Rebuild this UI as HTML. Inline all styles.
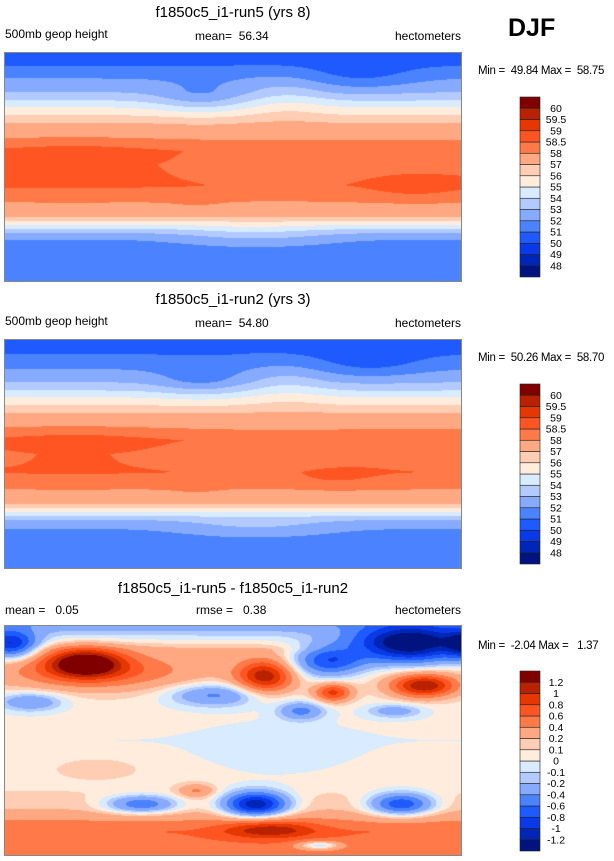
<!DOCTYPE html>
<html><head><meta charset="utf-8">
<style>
body{margin:0;background:#fff;width:614px;height:861px;position:relative;overflow:hidden;font-family:"Liberation Sans",sans-serif;color:#000}
.t{position:absolute;white-space:nowrap}
.mm{font-size:11.5px;letter-spacing:-0.3px}
canvas{position:absolute;outline:1px solid #888}
.cb{position:absolute}
</style></head><body>
<div class="t" style="left:508px;top:14px;font-size:25px;font-weight:bold">DJF</div>

<div class="t" style="left:0;width:466px;text-align:center;top:4px;font-size:15px">f1850c5_i1-run5 (yrs 8)</div>
<div class="t" style="left:5px;top:27px;font-size:12px">500mb geop height</div>
<div class="t" style="left:195px;top:29px;font-size:12px">mean=&nbsp; 56.34</div>
<div class="t" style="right:153px;top:29px;font-size:12px">hectometers</div>
<div class="t mm" style="left:478px;top:65px">Min =&nbsp; 49.84 Max =&nbsp; 58.75</div>
<canvas id="m1" width="456" height="228" style="left:5px;top:53px"></canvas>
<svg id="cb1" class="cb" width="80" height="190" style="left:515px;top:93px"></svg>

<div class="t" style="left:0;width:466px;text-align:center;top:291px;font-size:15px">f1850c5_i1-run2 (yrs 3)</div>
<div class="t" style="left:5px;top:314px;font-size:12px">500mb geop height</div>
<div class="t" style="left:195px;top:316px;font-size:12px">mean=&nbsp; 54.80</div>
<div class="t" style="right:153px;top:316px;font-size:12px">hectometers</div>
<div class="t mm" style="left:478px;top:352px">Min =&nbsp; 50.26 Max =&nbsp; 58.70</div>
<canvas id="m2" width="456" height="228" style="left:5px;top:340px"></canvas>
<svg id="cb2" class="cb" width="80" height="190" style="left:515px;top:380px"></svg>

<div class="t" style="left:0;width:466px;text-align:center;top:580px;font-size:15px">f1850c5_i1-run5 - f1850c5_i1-run2</div>
<div class="t" style="left:5px;top:603px;font-size:12px">mean =&nbsp;&nbsp; 0.05</div>
<div class="t" style="left:196px;top:603px;font-size:12px">rmse =&nbsp;&nbsp; 0.38</div>
<div class="t" style="right:153px;top:603px;font-size:12px">hectometers</div>
<div class="t mm" style="left:478px;top:640px">Min =&nbsp; -2.04 Max =&nbsp;&nbsp; 1.37</div>
<canvas id="m3" width="456" height="229" style="left:5px;top:626px"></canvas>
<svg id="cb3" class="cb" width="80" height="190" style="left:515px;top:667px"></svg>

<script>
const colors=["#00137e","#0026b8","#0a3ae8","#1e5aff","#4a82ff","#86aaff","#b2caff","#d8ebff","#ffecdc","#ffcdb4","#ffa882","#ff7a48","#ff5522","#e43800","#b82200","#800000"];
const levelsAbs=[48,49,50,51,52,53,54,55,56,57,58,58.5,59,59.5,60];
const levelLabelsAbs=["48","49","50","51","52","53","54","55","56","57","58","58.5","59","59.5","60"];
const levelsDiff=[-1.2,-1,-0.8,-0.6,-0.4,-0.2,-0.1,0,0.1,0.2,0.4,0.6,0.8,1,1.2];
const levelLabelsDiff=["-1.2","-1","-0.8","-0.6","-0.4","-0.2","-0.1","0","0.1","0.2","0.4","0.6","0.8","1","1.2"];
// zonal profiles: fractional y position down the map and value
const profV1=[0,0.053,0.11,0.17,0.206,0.237,0.272,0.307,0.38,0.43,0.49,0.58,0.645,0.70,0.72,0.737,0.754,0.772,0.79,0.82,0.886,0.95,1];
const profZ1=[50.3,51.0,52.0,53.0,54,55,56,57,58,58.45,58.4,58.55,58.1,57.6,57,56,55,54,53,52,51.4,51.3,51.2];
const profV2=[0,0.06,0.12,0.18,0.22,0.25,0.285,0.32,0.39,0.44,0.50,0.58,0.645,0.70,0.72,0.737,0.754,0.772,0.79,0.83,0.9,0.95,1];
const profZ2=[50.6,51.0,51.9,52.9,54,55,56,57,58,58.45,58.3,58.5,58.1,57.6,57,56,55,54,53,52,51.4,51.2,51.1];
const profV3=[0,0.1,0.2,0.3,0.5,0.7,0.8,0.9,1];
const profZ3=[-0.3,0.2,0.15,0.06,0.0,0.07,0.2,0.6,0.5];
// blobs: [u, v, amplitude, radius-u, radius-v]
const blobs1=[[0.43,0.2,-1.3,0.1,0.07],[0.78,0.1,-1.0,0.12,0.07],[0.62,0.2,0.7,0.09,0.1],[0.55,0.8,0.9,0.15,0.05],[0.15,0.45,0.3,0.2,0.1],[0.6,0.52,-0.25,0.15,0.1],[0.9,0.6,0.25,0.1,0.05],[0.42,0.64,0.25,0.05,0.03]];
const blobs2=[[0.43,0.18,-1.1,0.1,0.07],[0.8,0.1,-1.0,0.12,0.07],[0.62,0.2,0.7,0.09,0.1],[0.55,0.82,0.8,0.15,0.05],[0.15,0.45,0.3,0.2,0.1],[0.6,0.52,-0.25,0.15,0.1],[0.72,0.6,0.3,0.1,0.05],[0.42,0.64,0.25,0.05,0.03]];
const blobs3=[[0.175,0.16,1.2,0.08,0.06],[0.2,0.2,0.5,0.2,0.08],[0.57,0.22,1.0,0.06,0.07],[0.92,0.26,1.1,0.07,0.05],[0.72,0.29,0.8,0.04,0.04],[0.89,0.08,-1.6,0.12,0.08],[0.71,0.15,-0.9,0.08,0.07],[0.01,0.08,-1.1,0.06,0.06],[1.01,0.08,-1.0,0.04,0.06],[0.46,0.3,-0.5,0.1,0.05],[0.65,0.37,-0.5,0.05,0.04],[0.055,0.33,-0.45,0.07,0.04],[0.855,0.37,-0.35,0.06,0.03],[0.55,0.78,-1.3,0.07,0.055],[0.3,0.78,-0.7,0.08,0.04],[0.87,0.78,-0.9,0.07,0.05],[0.58,0.89,0.6,0.1,0.04],[0.6,0.55,-0.1,0.15,0.12],[0.42,0.72,0.35,0.04,0.03],[0.69,0.96,-0.6,0.05,0.02],[0.2,0.62,0.12,0.1,0.05]];

function interp(vs,zs,v){for(let i=1;i<vs.length;i++){if(v<=vs[i]){const t=(v-vs[i-1])/(vs[i]-vs[i-1]);return zs[i-1]+t*(zs[i]-zs[i-1]);}}return zs[zs.length-1];}
function colorIndex(levels,z){let i=0;while(i<levels.length&&z>=levels[i])i++;return i;}
function hex(c){return [parseInt(c.slice(1,3),16),parseInt(c.slice(3,5),16),parseInt(c.slice(5,7),16)];}
const rgb=colors.map(hex);
function drawMap(id,vs,zs,blobs,levels){
  const cv=document.getElementById(id),ctx=cv.getContext('2d'),W=cv.width,H=cv.height;
  const img=ctx.createImageData(W,H);
  for(let y=0;y<H;y++){const v=y/(H-1);const base=interp(vs,zs,v);
    for(let x=0;x<W;x++){const u=x/(W-1);let z=base;
      for(const b of blobs){const du=(u-b[0])/b[3],dv=(v-b[1])/b[4];z+=b[2]*Math.exp(-(du*du+dv*dv));}
      const c=rgb[colorIndex(levels,z)];const k=(y*W+x)*4;img.data[k]=c[0];img.data[k+1]=c[1];img.data[k+2]=c[2];img.data[k+3]=255;}}
  ctx.putImageData(img,0,0);
}
function drawBar(id,labels){
  const svg=document.getElementById(id),ns="http://www.w3.org/2000/svg";const bh=11.25,x0=5,y0=4,w=20;
  for(let i=0;i<colors.length;i++){const r=document.createElementNS(ns,'rect');
    
    
    r.setAttribute('x',x0);r.setAttribute('y',y0+(colors.length-1-i)*bh);r.setAttribute('width',w);r.setAttribute('height',bh);
    r.setAttribute('fill',colors[i]);r.setAttribute('stroke','#222');r.setAttribute('stroke-width','0.6');svg.appendChild(r);}
  for(let i=0;i<labels.length;i++){const t=document.createElementNS(ns,'text');
    
    
    t.setAttribute('x',x0+w+16);t.setAttribute('y',y0+(colors.length-1-i)*bh+3.5);t.setAttribute('text-anchor','middle');
    t.setAttribute('font-size','10.5');t.setAttribute('font-family','Liberation Sans, sans-serif');t.textContent=labels[i];svg.appendChild(t);}
}
drawMap('m1',profV1,profZ1,blobs1,levelsAbs);
drawMap('m2',profV2,profZ2,blobs2,levelsAbs);
drawMap('m3',profV3,profZ3,blobs3,levelsDiff);
drawBar('cb1',levelLabelsAbs);drawBar('cb2',levelLabelsAbs);drawBar('cb3',levelLabelsDiff);
</script>
</body></html>
